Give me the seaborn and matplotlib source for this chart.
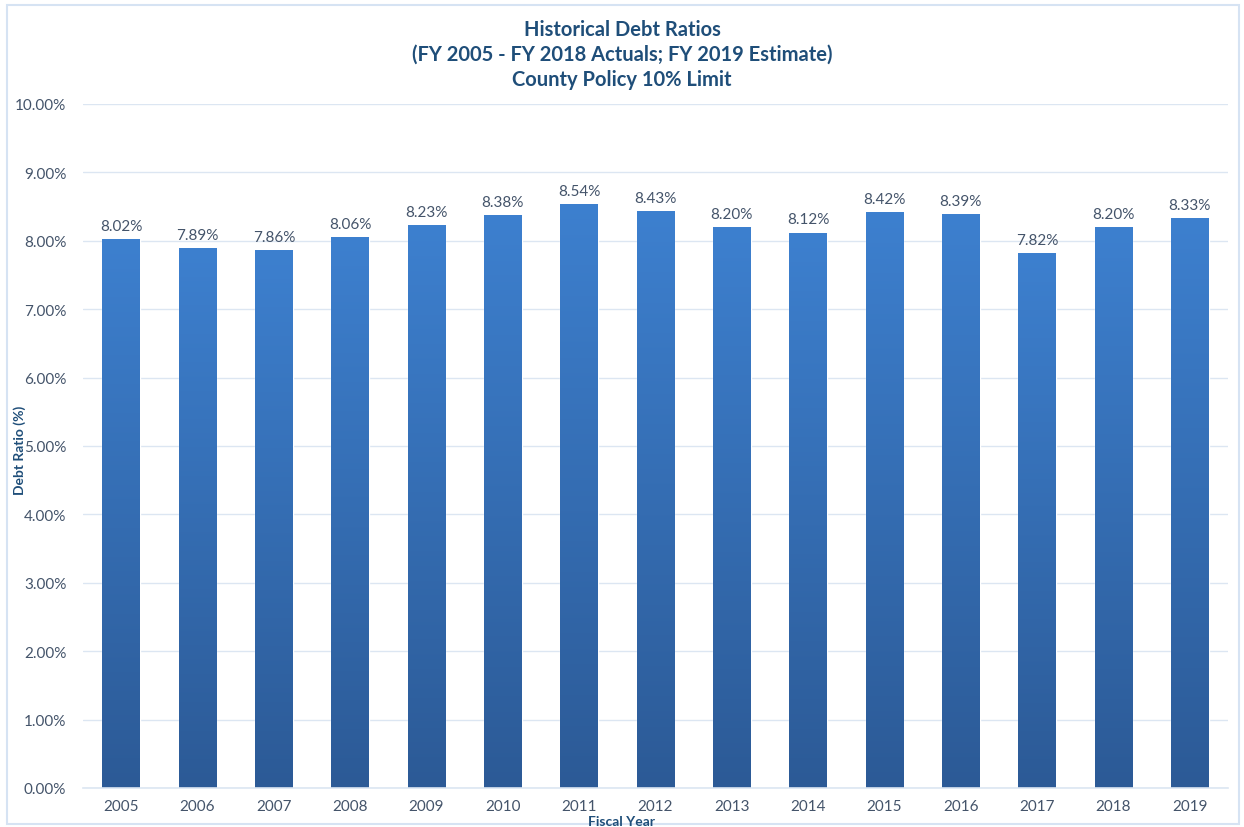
import matplotlib
matplotlib.use("Agg")
import matplotlib.pyplot as plt
import seaborn as sns
import numpy as np
import pandas as pd
from matplotlib.colors import LinearSegmentedColormap
from matplotlib.patches import Rectangle

years = ["2005", "2006", "2007", "2008", "2009", "2010", "2011", "2012",
         "2013", "2014", "2015", "2016", "2017", "2018", "2019"]
ratios = [8.02, 7.89, 7.86, 8.06, 8.23, 8.38, 8.54, 8.43,
          8.20, 8.12, 8.42, 8.39, 7.82, 8.20, 8.33]
yticks = [0, 1, 2, 3, 4, 5, 6, 7, 8, 9, 10]

title = "Historical Debt Ratios\n(FY 2005 - FY 2018 Actuals; FY 2019 Estimate)\nCounty Policy 10% Limit"

sns.set_theme(style="white")
plt.rcParams['font.family'] = ['Lato', 'DejaVu Sans']

df = pd.DataFrame({"Year": years, "Ratio": ratios})

fig = plt.figure(figsize=(12.44, 8.28), dpi=100)
ax = fig.add_axes([83/1244, 1 - 789/828, (1228-83)/1244, (789-105)/828])

sns.barplot(data=df, x="Year", y="Ratio", color="#3570BC", width=0.49, ax=ax, saturation=1)

ax.set_xlim(-0.5, len(years) - 0.5)
ax.set_ylim(0, 10)
ax.set_yticks(yticks)
ax.set_yticklabels([f"{v:.2f}%" for v in yticks])

label_color = "#44546A"
title_color = "#1F4E79"

# gradient fill
cmap = LinearSegmentedColormap.from_list("g", ["#2C5A96", "#3D80CF"])
grad = np.linspace(0, 1, 256).reshape(-1, 1)
for p in ax.patches:
    x0, y0 = p.get_x(), p.get_y()
    w, h = p.get_width(), p.get_height()
    im = ax.imshow(grad, cmap=cmap, origin="lower", aspect="auto",
                   extent=[x0, x0 + w, y0, y0 + h], zorder=p.get_zorder() + 0.1)
    im.set_clip_path(p)
    ax.text(x0 + w / 2, h + 0.09, f"{h:.2f}%", ha="center", va="bottom",
            fontsize=11, color=label_color)

ax.set_xlim(-0.5, len(years) - 0.5)
ax.set_ylim(0, 10)

ax.grid(axis="y", color="#DCE6F2", linewidth=1)
ax.set_axisbelow(True)
for s in ["top", "right", "left"]:
    ax.spines[s].set_visible(False)
ax.spines["bottom"].set_color("#DCE6F2")
ax.spines["bottom"].set_linewidth(1.2)

ax.tick_params(axis="both", length=0, labelsize=11, labelcolor=label_color)
ax.tick_params(axis="y", pad=12)
ax.tick_params(axis="x", pad=8)
ax.set_xlabel("")
ax.set_ylabel("")

fig.text(0.5, 1 - 822/828, "Fiscal Year", ha="center", va="center", fontsize=10,
         fontweight="bold", color=title_color)
fig.text(20/1244, 1 - 450/828, "Debt Ratio (%)", ha="center", va="center", rotation=90,
         fontsize=10, fontweight="bold", color=title_color)

fig.text(0.5, 1 - 55/828, title, ha="center", va="center", fontsize=14.5,
         fontweight="bold", color=title_color, linespacing=1.3)

fig.patches.append(Rectangle((7/1244, 3/828), 1232/1244, 819/828, transform=fig.transFigure,
                             fill=False, edgecolor="#D6E3F3", linewidth=1.5))

fig.savefig("out.png", dpi=100)
